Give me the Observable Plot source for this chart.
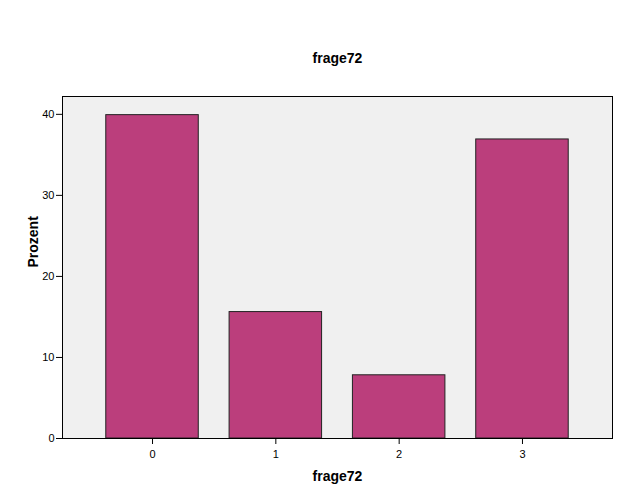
<!DOCTYPE html>
<html>
<head>
<meta charset="utf-8">
<script src="https://cdn.jsdelivr.net/npm/d3@7"></script>
<script src="https://cdn.jsdelivr.net/npm/@observablehq/plot@0.6"></script>
<style>
  html, body { margin: 0; padding: 0; background: white; }
</style>
</head>
<body>
<div id="chart"></div>
<script>
const title = "frage72";
const xLabel = "frage72";
const yLabel = "Prozent";
const categories = ["0", "1", "2", "3"];
const percents = [39.9, 15.6, 7.8, 36.9];
const yTicks = [0, 10, 20, 30, 40];

const data = categories.map((c, i) => ({category: c, percent: percents[i]}));

const chart = Plot.plot({
  width: 625,
  height: 500,
  marginLeft: 62,
  marginRight: 13,
  marginTop: 96,
  marginBottom: 62,
  style: {fontFamily: "Arial, 'Liberation Sans', sans-serif", fontSize: "11px", background: "white", color: "black"},
  x: {domain: categories, paddingInner: 0.25, paddingOuter: 0.355, round: false, label: null},
  y: {domain: [0, 42.2], label: null},
  marks: [
    Plot.frame({fill: "#f0f0f0"}),
    Plot.barY(data, {x: "category", y: "percent", fill: "#bb3e7c", stroke: "#222222", strokeWidth: 1}),
    Plot.frame({stroke: "black", strokeWidth: 1}),
    Plot.axisY({ticks: yTicks, tickSize: 6, tickPadding: 2, label: null, fontSize: 11}),
    Plot.axisX({tickSize: 6, tickPadding: 6, label: null, fontSize: 11}),
    Plot.text([title], {text: d => d, frameAnchor: "top", lineAnchor: "middle", dy: -38, fontWeight: "bold", fontSize: 14}),
    Plot.text([yLabel], {text: d => d, frameAnchor: "left", dx: -29, rotate: -90, fontWeight: "bold", fontSize: 14}),
    Plot.text([xLabel], {text: d => d, frameAnchor: "bottom", lineAnchor: "middle", dy: 38, fontWeight: "bold", fontSize: 14})
  ]
});
document.getElementById("chart").appendChild(chart);
</script>
</body>
</html>
